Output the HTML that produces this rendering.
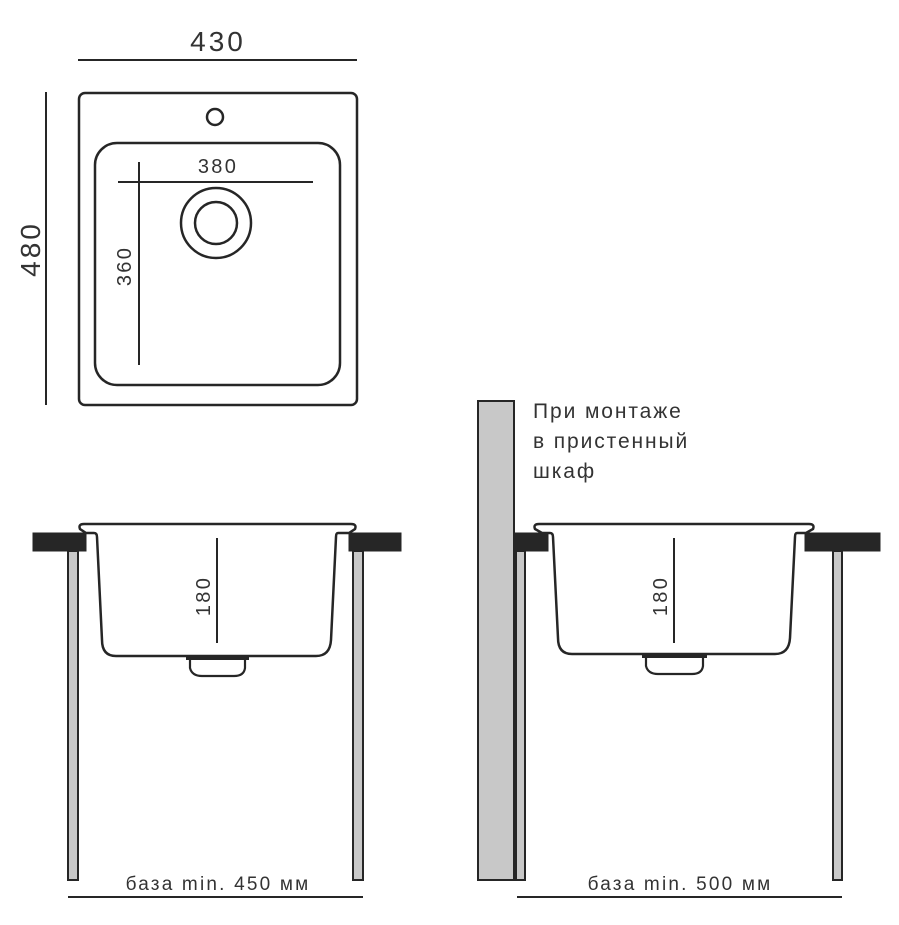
<!DOCTYPE html>
<html><head><meta charset="utf-8"><style>
html,body{margin:0;padding:0;background:#fff;}
svg{display:block;}
text{font-family:"Liberation Sans",sans-serif;fill:#333;}
</style></head><body>
<svg width="899" height="925" viewBox="0 0 899 925" xmlns="http://www.w3.org/2000/svg">
<g stroke="#262626" fill="none">
<line x1="78" y1="60" x2="357" y2="60" stroke-width="2"/>
<line x1="46" y1="92" x2="46" y2="405" stroke-width="2"/>
<rect x="79" y="93" width="278" height="312" rx="6" stroke-width="2.5"/>
<rect x="95" y="143" width="245" height="242" rx="22" stroke-width="2.5"/>
<circle cx="215" cy="117" r="8" stroke-width="2.5"/>
<circle cx="216" cy="223" r="35" stroke-width="2.5"/>
<circle cx="216" cy="223" r="21" stroke-width="2.5"/>
<line x1="118" y1="182" x2="313" y2="182" stroke-width="2"/>
<line x1="139" y1="162" x2="139" y2="365" stroke-width="2"/>
</g>
<text x="218" y="51" font-size="28" letter-spacing="3" text-anchor="middle">430</text>
<text x="218" y="173" font-size="20" letter-spacing="2.3" text-anchor="middle">380</text>
<text transform="translate(40,249) rotate(-90)" font-size="28" letter-spacing="3" text-anchor="middle">480</text>
<text transform="translate(131,266) rotate(-90)" font-size="20" letter-spacing="2.3" text-anchor="middle">360</text>

<g stroke="#262626">
<rect x="68" y="551" width="10" height="329" fill="#c8c8c8" stroke-width="2"/>
<rect x="353" y="551" width="10" height="329" fill="#c8c8c8" stroke-width="2"/>
<rect x="33" y="533" width="53" height="18" fill="#262626"/>
<rect x="349" y="533" width="52" height="18" fill="#262626"/>
<path d="M80 529 Q78 524 84 524 L351 524 Q357 524 355 529 L349 533 L338 533 Q336 533 336 537 L331 640 Q330 656 316 656 L116 656 Q102 656 102 640 L97 537 Q97 533 94 533 L86 533 Z" fill="#fff" stroke-width="2.5"/>
<rect x="186" y="656" width="63" height="4" fill="#262626" stroke="none"/>
<path d="M190 660 L190 668 Q192 676 202 676 L234 676 Q244 676 245 668 L245 660" fill="none" stroke-width="2.2"/>
<line x1="217" y1="538" x2="217" y2="643" stroke-width="2"/>
<line x1="68" y1="897" x2="363" y2="897" stroke-width="2"/>
</g>
<text transform="translate(210,596) rotate(-90)" font-size="20" letter-spacing="2.3" text-anchor="middle">180</text>
<text x="218" y="890" font-size="19" letter-spacing="2.2" text-anchor="middle">база min. 450 мм</text>

<g stroke="#262626">
<rect x="478" y="401" width="36" height="479" fill="#c8c8c8" stroke-width="2"/>
<rect x="516" y="551" width="9" height="329" fill="#c8c8c8" stroke-width="2"/>
<rect x="833" y="551" width="9" height="329" fill="#c8c8c8" stroke-width="2"/>
<rect x="514" y="533" width="34" height="18" fill="#262626"/>
<rect x="805" y="533" width="75" height="18" fill="#262626"/>
<path d="M535 529 Q533 524 539 524 L809 524 Q815 524 813 529 L806 533 L797 533 Q795 533 795 537 L790 638 Q789 654 775 654 L572 654 Q558 654 558 638 L553 537 Q553 533 550 533 L542 533 Z" fill="#fff" stroke-width="2.5"/>
<rect x="642" y="654" width="65" height="4" fill="#262626" stroke="none"/>
<path d="M646 658 L646 666 Q648 674 658 674 L692 674 Q702 674 703 666 L703 658" fill="none" stroke-width="2.2"/>
<line x1="674" y1="538" x2="674" y2="643" stroke-width="2"/>
<line x1="517" y1="897" x2="842" y2="897" stroke-width="2"/>
</g>
<text transform="translate(667,596) rotate(-90)" font-size="20" letter-spacing="2.3" text-anchor="middle">180</text>
<text x="680" y="890" font-size="19" letter-spacing="2.2" text-anchor="middle">база min. 500 мм</text>
<text x="533" y="418" font-size="21" letter-spacing="1.9">При монтаже</text>
<text x="533" y="448" font-size="21" letter-spacing="1.9">в пристенный</text>
<text x="533" y="478" font-size="21" letter-spacing="1.9">шкаф</text>
</svg>
</body></html>
